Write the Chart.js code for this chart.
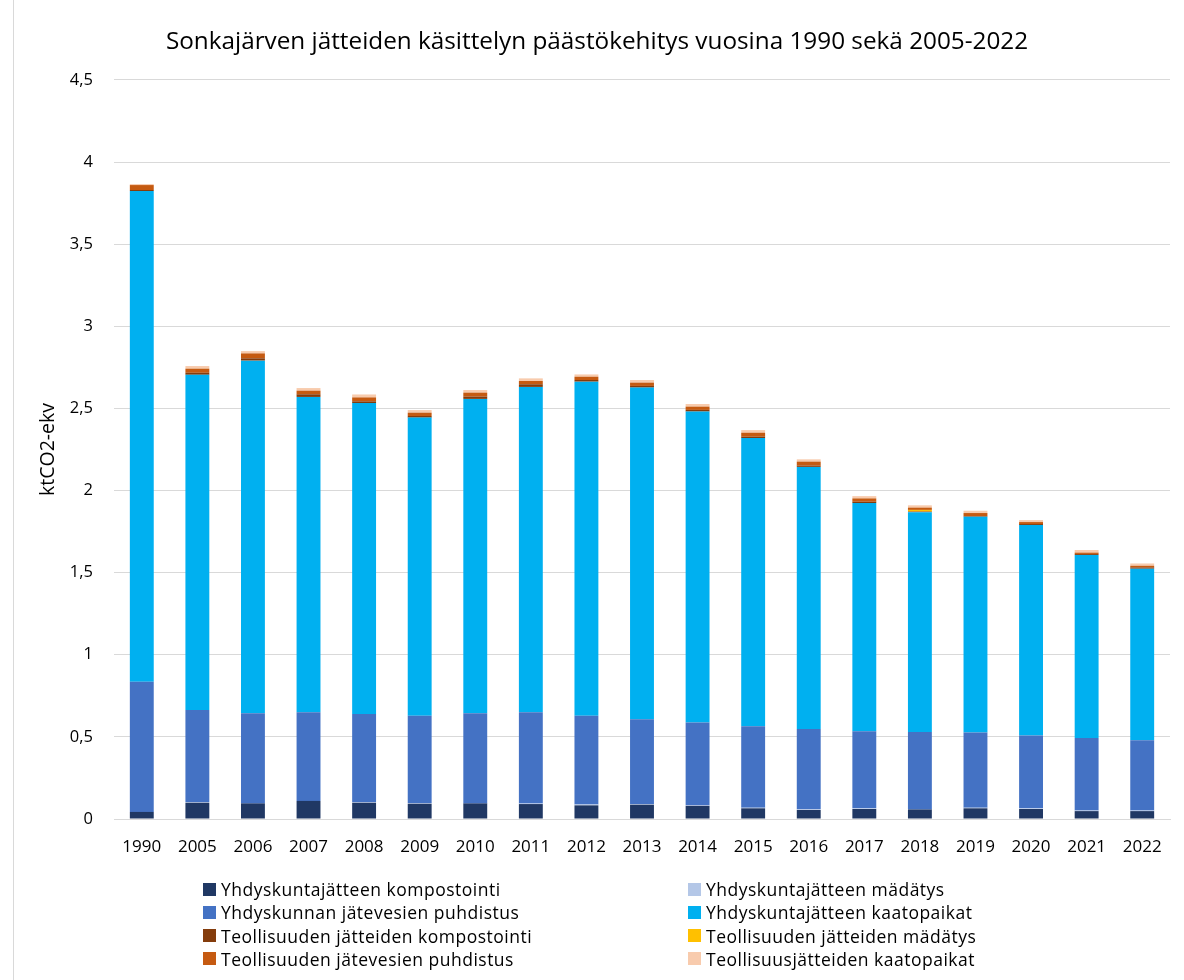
<!DOCTYPE html>
<html>
<head>
<meta charset="utf-8">
<script src="https://cdn.jsdelivr.net/npm/chart.js@4.4.1/dist/chart.umd.min.js"></script>
<style>
  html, body { margin: 0; padding: 0; background: #fff; }
  #wrap { position: relative; width: 1184px; height: 980px; }
  #frame { position: absolute; left: 13px; top: 0; width: 1px; height: 980px; background: #d9d9d9; }
  #legend {
    position: absolute; left: 203px; top: 879px;
    display: grid; grid-template-columns: 485px 480px; row-gap: 3.3px;
    font-family: "Open Sans", sans-serif; font-size: 17.5px; letter-spacing: 0.5px; color: #000;
  }
  #legend div { display: flex; align-items: center; height: 20px; white-space: nowrap; }
  #legend span { display: inline-block; width: 13px; height: 13px; margin-right: 5px; }
</style>
</head>
<body>
<div id="wrap">
  <canvas id="chart" width="1184" height="980"></canvas>
  <div id="frame"></div>
  <div id="legend"></div>
</div>
<script>
const years = ["1990", "2005", "2006", "2007", "2008", "2009", "2010", "2011", "2012", "2013",
               "2014", "2015", "2016", "2017", "2018", "2019", "2020", "2021", "2022"];

const yhdKompostointi = [0.043, 0.099, 0.095, 0.110, 0.099, 0.093, 0.095, 0.091, 0.083, 0.087,
                         0.080, 0.065, 0.055, 0.061, 0.058, 0.065, 0.061, 0.048, 0.048];
const yhdMadatys = [0, 0.004, 0, 0, 0.004, 0.004, 0, 0.004, 0.006, 0.004,
                    0.004, 0.004, 0.004, 0.004, 0, 0.004, 0.004, 0.004, 0.004];
const yhdPuhdistus = [0.793, 0.561, 0.549, 0.540, 0.536, 0.532, 0.549, 0.555, 0.540, 0.516,
                      0.503, 0.496, 0.489, 0.469, 0.472, 0.457, 0.444, 0.441, 0.427];
const yhdKaatopaikat = [2.988, 2.041, 2.147, 1.920, 1.894, 1.815, 1.914, 1.981, 2.034, 2.020,
                        1.894, 1.755, 1.596, 1.390, 1.338, 1.315, 1.281, 1.115, 1.045];
const teolKompostointi = [0.006, 0.012, 0.014, 0.016, 0.010, 0.010, 0.014, 0.016, 0.010, 0.010,
                          0.010, 0.008, 0.008, 0.008, 0.004, 0.004, 0.006, 0.006, 0.008];
const teolMadatys = [0, 0, 0, 0, 0, 0, 0, 0, 0, 0,
                     0, 0, 0, 0, 0.010, 0, 0, 0, 0];
const teolPuhdistus = [0.030, 0.025, 0.030, 0.022, 0.024, 0.020, 0.024, 0.020, 0.020, 0.020,
                       0.020, 0.024, 0.024, 0.020, 0.014, 0.018, 0.012, 0.008, 0.010];
const teolKaatopaikat = [0.006, 0.016, 0.014, 0.016, 0.018, 0.016, 0.016, 0.016, 0.014, 0.016,
                         0.016, 0.016, 0.014, 0.014, 0.014, 0.014, 0.012, 0.016, 0.014];

const yTicks = [0, 0.5, 1, 1.5, 2, 2.5, 3, 3.5, 4, 4.5];

const series = [
  ["Yhdyskuntajätteen kompostointi", yhdKompostointi, "#203864"],
  ["Yhdyskuntajätteen mädätys", yhdMadatys, "#b4c7e7"],
  ["Yhdyskunnan jätevesien puhdistus", yhdPuhdistus, "#4472c4"],
  ["Yhdyskuntajätteen kaatopaikat", yhdKaatopaikat, "#00b0f0"],
  ["Teollisuuden jätteiden kompostointi", teolKompostointi, "#843c0c"],
  ["Teollisuuden jätteiden mädätys", teolMadatys, "#ffc000"],
  ["Teollisuuden jätevesien puhdistus", teolPuhdistus, "#c55a11"],
  ["Teollisuusjätteiden kaatopaikat", teolKaatopaikat, "#f8cbad"]
];

const font = "'Open Sans', sans-serif";

const chart = new Chart(document.getElementById("chart"), {
  type: "bar",
  data: {
    labels: years,
    datasets: series.map(([label, data, color]) => ({
      label,
      data,
      backgroundColor: color,
      borderWidth: 0,
      categoryPercentage: 1,
      barPercentage: 0.43
    }))
  },
  options: {
    responsive: false,
    animation: false,
    layout: { padding: { left: 24, right: 14, top: 0, bottom: 120 } },
    plugins: {
      legend: { display: false },
      tooltip: { enabled: false },
      title: {
        display: true,
        text: "Sonkajärven jätteiden käsittelyn päästökehitys vuosina 1990 sekä 2005-2022",
        color: "#000",
        font: { family: font, size: 24.3, weight: "normal" },
        padding: { top: 27, bottom: 23.8 }
      }
    },
    scales: {
      x: {
        stacked: true,
        grid: { display: false, drawTicks: false },
        border: { color: "#d9d9d9", width: 1 },
        ticks: { color: "#000", font: { family: font, size: 17 }, padding: 18 },
        afterFit: s => { s.height = 41; }
      },
      y: {
        stacked: true,
        min: 0,
        max: 4.5,
        afterBuildTicks: s => { s.ticks = yTicks.map(v => ({ value: v })); },
        grid: { color: "#d9d9d9", drawTicks: false },
        border: { display: false },
        ticks: {
          color: "#000",
          font: { family: font, size: 16.5 },
          padding: 21,
          callback: v => String(v).replace(".", ",")
        },
        title: {
          display: true,
          text: "ktCO2-ekv",
          color: "#000",
          font: { family: font, size: 19.5 },
          padding: { top: 13, bottom: 0 }
        },
        afterFit: s => { s.width = 90; }
      }
    }
  }
});

const legendEl = document.getElementById("legend");
chart.data.datasets.forEach(ds => {
  const item = document.createElement("div");
  const box = document.createElement("span");
  box.style.background = ds.backgroundColor;
  item.appendChild(box);
  item.appendChild(document.createTextNode(ds.label));
  legendEl.appendChild(item);
});
</script>
</body>
</html>
